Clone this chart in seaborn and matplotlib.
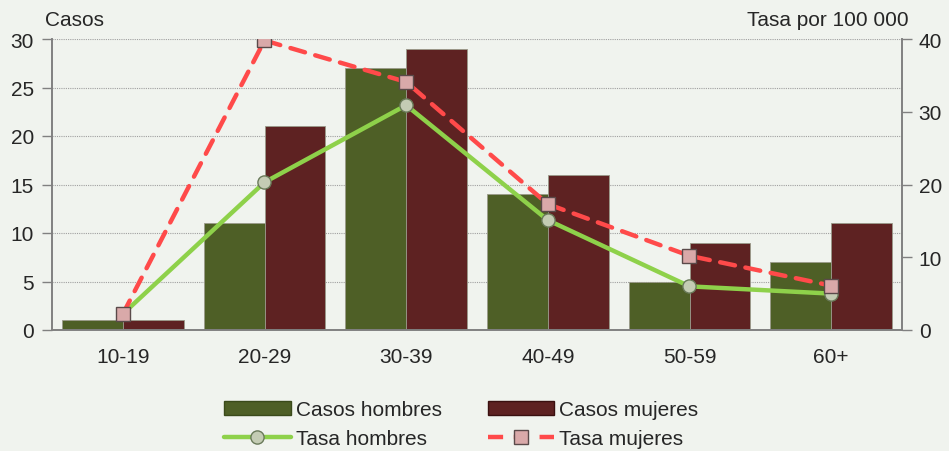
import numpy as np
import pandas as pd
import matplotlib
matplotlib.use("Agg")
import matplotlib.pyplot as plt
import seaborn as sns
from matplotlib.patches import Patch
from matplotlib.lines import Line2D

grupos = ["10-19", "20-29", "30-39", "40-49", "50-59", "60+"]
casos_hombres = [1, 11, 27, 14, 5, 7]
casos_mujeres = [1, 21, 29, 16, 9, 11]
tasa_hombres = [2.2, 20.3, 30.9, 15.1, 6.0, 5.0]
tasa_mujeres = [2.2, 39.8, 34.1, 17.3, 10.2, 6.1]

BG = "#f0f3ee"
C_H = "#4e5f26"
C_M = "#5e2222"
L_H = "#8ed14a"
L_M = "#ff4a4a"
FS = 15

sns.set_theme(style="white")
plt.rcParams["font.family"] = ["Liberation Sans", "DejaVu Sans"]

fig = plt.figure(figsize=(9.49, 4.52), dpi=100, facecolor=BG)
ax = fig.add_axes([52/949, 121/452, 850/949, 291/452], facecolor=BG)

df = pd.DataFrame({
    "grupo": grupos * 2,
    "casos": casos_hombres + casos_mujeres,
    "serie": ["Casos hombres"] * len(grupos) + ["Casos mujeres"] * len(grupos),
})
sns.barplot(data=df, x="grupo", y="casos", hue="serie",
            palette={"Casos hombres": C_H, "Casos mujeres": C_M},
            width=0.86, gap=0, saturation=1, ax=ax, legend=False,
            edgecolor="#9a9a8a", linewidth=0.6, zorder=2)

ax.set_ylim(0, 30)
ax.set_xlim(-0.5, len(grupos) - 0.5)
ax.set_yticks(np.arange(0, 31, 5))
ax.set_xlabel("")
ax.set_ylabel("")
for y in np.arange(5, 31, 5):
    ax.axhline(y, color="#a0a0a0", lw=0.8, ls=(0, (1, 1)), zorder=1)

ax.set_xticks(np.arange(len(grupos)))
ax.set_xticklabels(grupos)
ax.set_xticks(np.arange(len(grupos) + 1) - 0.5, minor=True)
ax.tick_params(axis="x", which="major", length=0, labelsize=FS, pad=12)
ax.tick_params(axis="x", which="minor", length=5, width=1, color="#808080", direction="out")
ax.tick_params(axis="y", length=7, width=1, color="#808080", labelsize=FS, direction="out", pad=6, left=True)

ax.spines["top"].set_visible(False)
for side in ["left", "right", "bottom"]:
    ax.spines[side].set_color("#808080")
    ax.spines[side].set_linewidth(1.2)

ax2 = ax.twinx()
x = np.arange(len(grupos))
sns.lineplot(x=x, y=tasa_hombres, ax=ax2, color=L_H, lw=3.2, marker="o",
             markersize=9.5, markerfacecolor="#c4ccb4", markeredgecolor="#6a7a5a",
             markeredgewidth=1, zorder=4)
sns.lineplot(x=x, y=tasa_mujeres, ax=ax2, color=L_M, lw=3.2, marker="s",
             markersize=9.5, markerfacecolor="#d9a9a9", markeredgecolor="#5a4a4a",
             markeredgewidth=1, zorder=5)
ax2.lines[-1].set_linestyle((0, (3.4, 2.4)))
ax2.lines[-1].set_dash_capstyle("round")
ax2.set_ylim(0, 40)
ax2.set_yticks(np.arange(0, 41, 10))
ax2.tick_params(axis="y", length=7, width=1, color="#808080", labelsize=FS, direction="out", pad=5, right=True)
ax2.spines["top"].set_visible(False)
for side in ["left", "right", "bottom"]:
    ax2.spines[side].set_color("#808080")
    ax2.spines[side].set_linewidth(1.2)
ax2.grid(False)
ax.grid(False)
ax2.set_xlim(-0.5, len(grupos) - 0.5)

fig.text(45/949, 1 - 20/452, "Casos", fontsize=FS, va="center", ha="left")
fig.text(909/949, 1 - 20/452, "Tasa por 100 000", fontsize=FS, va="center", ha="right")

handles = [
    Patch(facecolor=C_H, edgecolor="#3a4a1a"),
    Line2D([0], [0], color=L_H, lw=3.2, marker="o", markersize=9.5,
           markerfacecolor="#c4ccb4", markeredgecolor="#6a7a5a"),
    Patch(facecolor=C_M, edgecolor="#3a1010"),
    Line2D([0], [0], color=L_M, lw=3.2, ls=(0, (3.4, 2.4)), marker="s", markersize=9.5,
           markerfacecolor="#d9a9a9", markeredgecolor="#5a4a4a"),
]
labels = ["Casos hombres", "Tasa hombres", "Casos mujeres", "Tasa mujeres"]
fig.legend(handles, labels, ncol=2, loc="center", bbox_to_anchor=(0.486, 1 - 425/452),
           frameon=False, fontsize=FS, handlelength=3.2, handleheight=0.6,
           columnspacing=2.2, labelspacing=0.45, handletextpad=0.25)

fig.savefig("out.png", dpi=100, facecolor=BG)
